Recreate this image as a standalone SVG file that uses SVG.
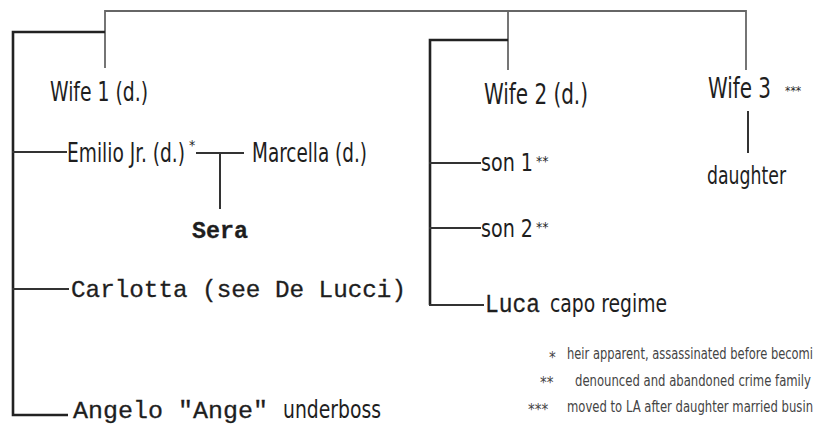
<svg xmlns="http://www.w3.org/2000/svg" width="814" height="424" viewBox="0 0 814 424">
  <style>
    .ln { stroke: #333; stroke-width: 2; fill: none; stroke-linecap: square; }
    .lt { stroke: #666; stroke-width: 1.8; fill: none; }
    .hv { stroke: #222; stroke-width: 2.6; fill: none; }
    .sans { font-family: "DejaVu Sans Condensed", "DejaVu Sans", sans-serif; font-stretch: condensed; fill: #1e1e1e; }
    .mono { font-family: "Liberation Mono", "DejaVu Sans Mono", monospace; fill: #1e1e1e; stroke: #1e1e1e; stroke-width: 0.3; }
    .sup { font-size: 14px; }
    .note { font-family: "DejaVu Sans Condensed", "DejaVu Sans", sans-serif; font-stretch: condensed; fill: #444; font-size: 15px; }
  </style>
  <rect width="814" height="424" fill="#fff"/>

  <g id="connectors">
    <!-- top bar joining the three marriages -->
    <path class="lt" d="M105 68 V11 H746 V70"/>
    <path class="lt" d="M508 11 V70"/>
    <!-- first marriage children -->
    <path class="hv" d="M105 32 H13 V415 H68"/>
    <path class="ln" d="M13 152 H66"/>
    <path class="ln" d="M13 289 H68"/>
    <!-- Emilio + Marcella -> Sera -->
    <path class="ln" d="M197 153 H243"/>
    <path class="ln" d="M220 153 V208"/>
    <!-- second marriage children -->
    <path class="hv" d="M508 40 H430 V305"/>
    <path class="ln" d="M430 163 H480"/>
    <path class="ln" d="M430 228 H480"/>
    <path class="ln" d="M430 305 H483"/>
    <!-- third marriage -->
    <path class="ln" d="M748 112 V152"/>
  </g>

  <g id="wife1"><text class="sans" x="50" y="101" font-size="26" textLength="98" lengthAdjust="spacingAndGlyphs">Wife 1 (d.)</text></g>
  <g id="emilio">
    <text class="sans" x="67" y="162" font-size="26"><tspan textLength="118" lengthAdjust="spacingAndGlyphs">Emilio Jr. (d.)</tspan><tspan class="sup" dx="4" dy="-12">*</tspan></text>
  </g>
  <g id="marcella"><text class="sans" x="252" y="162" font-size="26" textLength="115" lengthAdjust="spacingAndGlyphs">Marcella (d.)</text></g>
  <g id="sera"><text class="mono" x="192" y="238" font-size="23" font-weight="bold" textLength="56" lengthAdjust="spacingAndGlyphs">Sera</text></g>
  <g id="carlotta"><text class="mono" x="71" y="297" font-size="24" textLength="335" lengthAdjust="spacingAndGlyphs">Carlotta (see De Lucci)</text></g>
  <g id="angelo">
    <text class="mono" x="73" y="418" font-size="24" textLength="195" lengthAdjust="spacingAndGlyphs">Angelo "Ange"</text>
    <text class="sans" x="283" y="418" font-size="24" textLength="98" lengthAdjust="spacingAndGlyphs">underboss</text>
  </g>

  <g id="wife2"><text class="sans" x="484" y="104" font-size="28" textLength="104" lengthAdjust="spacingAndGlyphs">Wife 2 (d.)</text></g>
  <g id="son1">
    <text class="sans" x="481" y="171" font-size="25"><tspan textLength="52" lengthAdjust="spacingAndGlyphs">son 1</tspan><tspan class="sup" dx="3" dy="-5">**</tspan></text>
  </g>
  <g id="son2">
    <text class="sans" x="481" y="237" font-size="25"><tspan textLength="52" lengthAdjust="spacingAndGlyphs">son 2</tspan><tspan class="sup" dx="3" dy="-5">**</tspan></text>
  </g>
  <g id="luca">
    <text class="mono" x="485" y="312" font-size="25" textLength="55" lengthAdjust="spacingAndGlyphs">Luca</text>
    <text class="sans" x="550" y="312" font-size="24" textLength="117" lengthAdjust="spacingAndGlyphs">capo regime</text>
  </g>

  <g id="wife3">
    <text class="sans" x="708" y="98" font-size="28" textLength="63" lengthAdjust="spacingAndGlyphs">Wife 3</text>
    <text class="sans" x="785" y="95" font-size="12">***</text>
  </g>
  <g id="daughter"><text class="sans" x="707" y="184" font-size="25" textLength="79" lengthAdjust="spacingAndGlyphs">daughter</text></g>

  <g id="legend">
    <text class="note" x="549" y="363">*</text>
    <text class="note" x="567" y="359" textLength="246" lengthAdjust="spacingAndGlyphs">heir apparent, assassinated before becomi</text>
    <text class="note" x="540" y="388">**</text>
    <text class="note" x="575" y="386" textLength="236" lengthAdjust="spacingAndGlyphs">denounced and abandoned crime family</text>
    <text class="note" x="528" y="415">***</text>
    <text class="note" x="567" y="412" textLength="246" lengthAdjust="spacingAndGlyphs">moved to LA after daughter married busin</text>
  </g>
</svg>
